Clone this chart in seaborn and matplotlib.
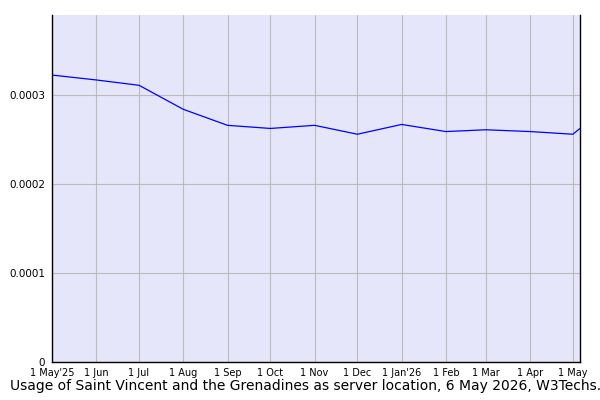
import seaborn as sns
import matplotlib.pyplot as plt
import pandas as pd

# data
dates = ['2025-05-01', '2025-06-01', '2025-07-01', '2025-08-01', '2025-09-01',
         '2025-10-01', '2025-11-01', '2025-12-01', '2026-01-01', '2026-02-01',
         '2026-03-01', '2026-04-01', '2026-05-01', '2026-05-06']
usage = [0.0003225, 0.000317, 0.000311, 0.000284, 0.000266,
         0.0002625, 0.000266, 0.000256, 0.000267, 0.000259,
         0.000261, 0.000259, 0.000256, 0.0002625]
tick_dates = ['2025-05-01', '2025-06-01', '2025-07-01', '2025-08-01', '2025-09-01',
              '2025-10-01', '2025-11-01', '2025-12-01', '2026-01-01', '2026-02-01',
              '2026-03-01', '2026-04-01', '2026-05-01']
tick_labels = ['1 May\'25', '1 Jun', '1 Jul', '1 Aug', '1 Sep', '1 Oct', '1 Nov',
               '1 Dec', '1 Jan\'26', '1 Feb', '1 Mar', '1 Apr', '1 May']
y_ticks = [0, 0.0001, 0.0002, 0.0003]
y_labels = ['0', '0.0001', '0.0002', '0.0003']

df = pd.DataFrame({'date': pd.to_datetime(dates), 'usage': usage})

sns.set_style('white')
plt.rcParams['font.family'] = ['DejaVu Sans']
plt.rcParams['text.color'] = 'black'
plt.rcParams['xtick.color'] = 'black'
plt.rcParams['ytick.color'] = 'black'

fig = plt.figure(figsize=(6, 4), dpi=100)
ax = fig.add_axes([52 / 600, 1 - 362 / 400, 528 / 600, 347 / 400])
ax.set_facecolor('#e6e6fa')

sns.lineplot(data=df, x='date', y='usage', color='#0000ff', linewidth=0.9, ax=ax)

ax.set_xlim(pd.Timestamp('2025-05-01'), pd.Timestamp('2026-05-06'))
ax.set_ylim(0, 0.00039)
ax.set_xticks(pd.to_datetime(tick_dates))
ax.set_xticklabels(tick_labels, fontsize=7)
ax.set_yticks(y_ticks)
ax.set_yticklabels(y_labels, fontsize=7.5)
ax.grid(True, color='#bbbbbb', linewidth=0.8)
ax.set_axisbelow(True)
ax.tick_params(axis='both', length=4, width=0.8, color='black', pad=1)
ax.tick_params(axis='x', length=3)
for side in ['left', 'right', 'bottom']:
    ax.spines[side].set_color('black')
    ax.spines[side].set_linewidth(1)
ax.spines['top'].set_visible(False)
ax.set_xlabel('')
ax.set_ylabel('')

# caption runs past the right edge in the reference too
fig.text(10 / 600, 1 - 386 / 400,
         'Usage of Saint Vincent and the Grenadines as server location, 6 May 2026, W3Techs.com',
         fontsize=10, va='center', ha='left', color='black')

fig.savefig('out.png', dpi=100)
